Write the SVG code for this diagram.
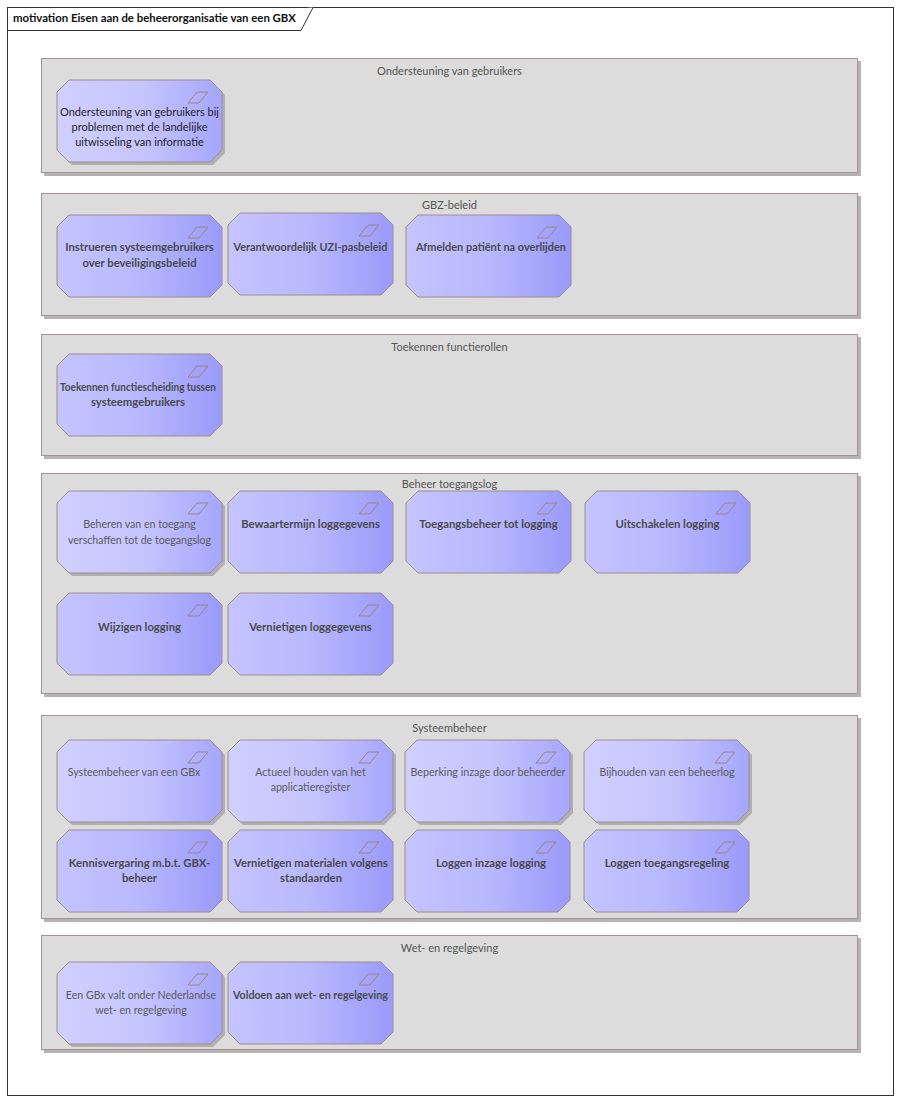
<svg xmlns="http://www.w3.org/2000/svg" xmlns:xlink="http://www.w3.org/1999/xlink" width="900" height="1102" viewBox="0 0 900 1102">
<style>
.frame{fill:#ffffff;stroke:#333333;stroke-width:1}
.title{font-family:Lato,"Liberation Sans",sans-serif;font-size:11.4px;font-weight:bold;fill:#111111}
.grp{fill:#dcdcdc;stroke:#a89090;stroke-width:1}
.gsh{fill:#b4b4b4}
.gtitle{font-family:Lato,"Liberation Sans",sans-serif;font-size:11px;fill:#555555;text-anchor:middle}
.oct{stroke:#a08c8c;stroke-width:1}
.lt{fill:url(#gLight)}
.dk{fill:url(#gDark)}
.nsh{fill:#b0b0b0}
.ico{fill:none;stroke:#9c8484;stroke-width:1}
.t{font-family:Lato,"Liberation Sans",sans-serif;font-size:10.6px;fill:#5a5a5a;text-anchor:middle}
.b{font-weight:bold;font-size:11.3px;fill:#4a4a4a}
</style>
<defs>
<linearGradient id="gLight" x1="0" y1="0" x2="1" y2="0">
<stop offset="0" stop-color="#cfcfff"/>
<stop offset="0.5" stop-color="#c6c6ff"/>
<stop offset="1" stop-color="#a6a6fc"/>
</linearGradient>
<linearGradient id="gDark" x1="0" y1="0" x2="1" y2="0">
<stop offset="0" stop-color="#c4c4ff"/>
<stop offset="0.5" stop-color="#b8b8ff"/>
<stop offset="1" stop-color="#9a9af9"/>
</linearGradient>
<path id="oct" d="M12,0 H153 L165,12 V70 L153,82 H12 L0,70 V12 Z"/>
<path id="ico" d="M140,12 H151 L142,23 H131 Z"/>
</defs>

<g id="frame">
<rect class="frame" x="7.5" y="7.5" width="886" height="1088"/>
<path class="frame" d="M7.5,30.5 H301 L313,7.5"/>
<text class="title" x="13" y="22">motivation Eisen aan de beheerorganisatie van een GBX</text>
</g>

<g id="grp-ondersteuning">
<rect class="gsh" x="44" y="61" width="817" height="115"/>
<rect class="grp" x="41.5" y="58.5" width="816" height="114"/>
<text class="gtitle" x="449.5" y="75">Ondersteuning van gebruikers</text>
</g>
<g id="n-ondersteuning" transform="translate(57,80)">
<use href="#oct" class="nsh" x="3" y="3"/>
<use href="#oct" class="oct lt"/>
<use href="#ico" class="ico"/>
<text class="t" style="fill:#1e1e1e;font-size:11px"><tspan x="82.5" y="36">Ondersteuning van gebruikers bij</tspan><tspan x="82.5" y="51">problemen met de landelijke</tspan><tspan x="82.5" y="66">uitwisseling van informatie</tspan></text>
</g>

<g id="grp-gbz">
<rect class="gsh" x="44" y="196" width="817" height="123"/>
<rect class="grp" x="41.5" y="193.5" width="816" height="122"/>
<text class="gtitle" x="449.5" y="209">GBZ-beleid</text>
</g>
<g id="n-instrueren" transform="translate(57,215)">
<use href="#oct" class="oct dk"/>
<use href="#ico" class="ico"/>
<text class="t b"><tspan x="82.5" y="36">Instrueren systeemgebruikers</tspan><tspan x="82.5" y="52">over beveiligingsbeleid</tspan></text>
</g>
<g id="n-uzi" transform="translate(228,213)">
<use href="#oct" class="oct dk"/>
<use href="#ico" class="ico"/>
<text class="t b"><tspan x="82.5" y="38" textLength="154" lengthAdjust="spacingAndGlyphs">Verantwoordelijk UZI-pasbeleid</tspan></text>
</g>
<g id="n-afmelden" transform="translate(406,215)">
<use href="#oct" class="oct dk"/>
<use href="#ico" class="ico"/>
<text class="t b"><tspan x="85" y="36" textLength="150" lengthAdjust="spacingAndGlyphs">Afmelden patiënt na overlijden</tspan></text>
</g>

<g id="grp-toekennen">
<rect class="gsh" x="44" y="337" width="817" height="122"/>
<rect class="grp" x="41.5" y="334.5" width="816" height="121"/>
<text class="gtitle" x="449.5" y="351">Toekennen functierollen</text>
</g>
<g id="n-functiescheiding" transform="translate(57,354)">
<use href="#oct" class="oct dk"/>
<use href="#ico" class="ico"/>
<text class="t b"><tspan x="81" y="37" textLength="156" lengthAdjust="spacingAndGlyphs">Toekennen functiescheiding tussen</tspan><tspan x="81" y="52">systeemgebruikers</tspan></text>
</g>

<g id="grp-toegangslog">
<rect class="gsh" x="44" y="476" width="817" height="221"/>
<rect class="grp" x="41.5" y="473.5" width="816" height="220"/>
<text class="gtitle" x="449.5" y="488">Beheer toegangslog</text>
</g>
<g id="n-beheren" transform="translate(57,491)">
<use href="#oct" class="nsh" x="3" y="3"/>
<use href="#oct" class="oct lt"/>
<use href="#ico" class="ico"/>
<text class="t"><tspan x="82.5" y="37">Beheren van en toegang</tspan><tspan x="82.5" y="53">verschaffen tot de toegangslog</tspan></text>
</g>
<g id="n-bewaartermijn" transform="translate(228,491)">
<use href="#oct" class="oct dk"/>
<use href="#ico" class="ico"/>
<text class="t b"><tspan x="82.5" y="37">Bewaartermijn loggegevens</tspan></text>
</g>
<g id="n-toegangsbeheer" transform="translate(406,491)">
<use href="#oct" class="oct dk"/>
<use href="#ico" class="ico"/>
<text class="t b"><tspan x="82.5" y="37">Toegangsbeheer tot logging</tspan></text>
</g>
<g id="n-uitschakelen" transform="translate(585,491)">
<use href="#oct" class="oct dk"/>
<use href="#ico" class="ico"/>
<text class="t b"><tspan x="82.5" y="37">Uitschakelen logging</tspan></text>
</g>
<g id="n-wijzigen" transform="translate(57,593)">
<use href="#oct" class="oct dk"/>
<use href="#ico" class="ico"/>
<text class="t b"><tspan x="82.5" y="38">Wijzigen logging</tspan></text>
</g>
<g id="n-vernietigen-log" transform="translate(228,593)">
<use href="#oct" class="oct dk"/>
<use href="#ico" class="ico"/>
<text class="t b"><tspan x="82.5" y="38">Vernietigen loggegevens</tspan></text>
</g>

<g id="grp-systeembeheer">
<rect class="gsh" x="44" y="718" width="817" height="204"/>
<rect class="grp" x="41.5" y="715.5" width="816" height="203"/>
<text class="gtitle" x="449.5" y="732">Systeembeheer</text>
</g>
<g id="n-systeembeheer" transform="translate(57,740)">
<use href="#oct" class="nsh" x="3" y="3"/>
<use href="#oct" class="oct lt"/>
<use href="#ico" class="ico"/>
<text class="t"><tspan x="77" y="36">Systeembeheer van een GBx</tspan></text>
</g>
<g id="n-actueel" transform="translate(228,740)">
<use href="#oct" class="nsh" x="3" y="3"/>
<use href="#oct" class="oct lt"/>
<use href="#ico" class="ico"/>
<text class="t"><tspan x="82.5" y="36">Actueel houden van het</tspan><tspan x="82.5" y="51">applicatieregister</tspan></text>
</g>
<g id="n-beperking" transform="translate(405,740)">
<use href="#oct" class="nsh" x="3" y="3"/>
<use href="#oct" class="oct lt"/>
<use href="#ico" class="ico"/>
<text class="t"><tspan x="83" y="36" textLength="155" lengthAdjust="spacingAndGlyphs">Beperking inzage door beheerder</tspan></text>
</g>
<g id="n-bijhouden" transform="translate(584,740)">
<use href="#oct" class="nsh" x="3" y="3"/>
<use href="#oct" class="oct lt"/>
<use href="#ico" class="ico"/>
<text class="t"><tspan x="83" y="36">Bijhouden van een beheerlog</tspan></text>
</g>
<g id="n-kennisvergaring" transform="translate(57,830)">
<use href="#oct" class="oct dk"/>
<use href="#ico" class="ico"/>
<text class="t b"><tspan x="82.5" y="37">Kennisvergaring m.b.t. GBX-</tspan><tspan x="82.5" y="52">beheer</tspan></text>
</g>
<g id="n-vernietigen-mat" transform="translate(228,830)">
<use href="#oct" class="oct dk"/>
<use href="#ico" class="ico"/>
<text class="t b"><tspan x="83" y="37" textLength="154" lengthAdjust="spacingAndGlyphs">Vernietigen materialen volgens</tspan><tspan x="83" y="52">standaarden</tspan></text>
</g>
<g id="n-loggen-inzage" transform="translate(405,830)">
<use href="#oct" class="oct dk"/>
<use href="#ico" class="ico"/>
<text class="t b"><tspan x="86" y="37">Loggen inzage logging</tspan></text>
</g>
<g id="n-loggen-toegang" transform="translate(584,830)">
<use href="#oct" class="oct dk"/>
<use href="#ico" class="ico"/>
<text class="t b"><tspan x="83" y="37">Loggen toegangsregeling</tspan></text>
</g>

<g id="grp-wet">
<rect class="gsh" x="44" y="938" width="817" height="115"/>
<rect class="grp" x="41.5" y="935.5" width="816" height="114"/>
<text class="gtitle" x="449.5" y="952">Wet- en regelgeving</text>
</g>
<g id="n-gbx-nl" transform="translate(57,962)">
<use href="#oct" class="nsh" x="3" y="3"/>
<use href="#oct" class="oct lt"/>
<use href="#ico" class="ico"/>
<text class="t"><tspan x="84" y="37">Een GBx valt onder Nederlandse</tspan><tspan x="84" y="52">wet- en regelgeving</tspan></text>
</g>
<g id="n-voldoen" transform="translate(228,962)">
<use href="#oct" class="oct dk"/>
<use href="#ico" class="ico"/>
<text class="t b"><tspan x="82.5" y="37" textLength="155" lengthAdjust="spacingAndGlyphs">Voldoen aan wet- en regelgeving</tspan></text>
</g>

<g id="connectors"></g>
</svg>
